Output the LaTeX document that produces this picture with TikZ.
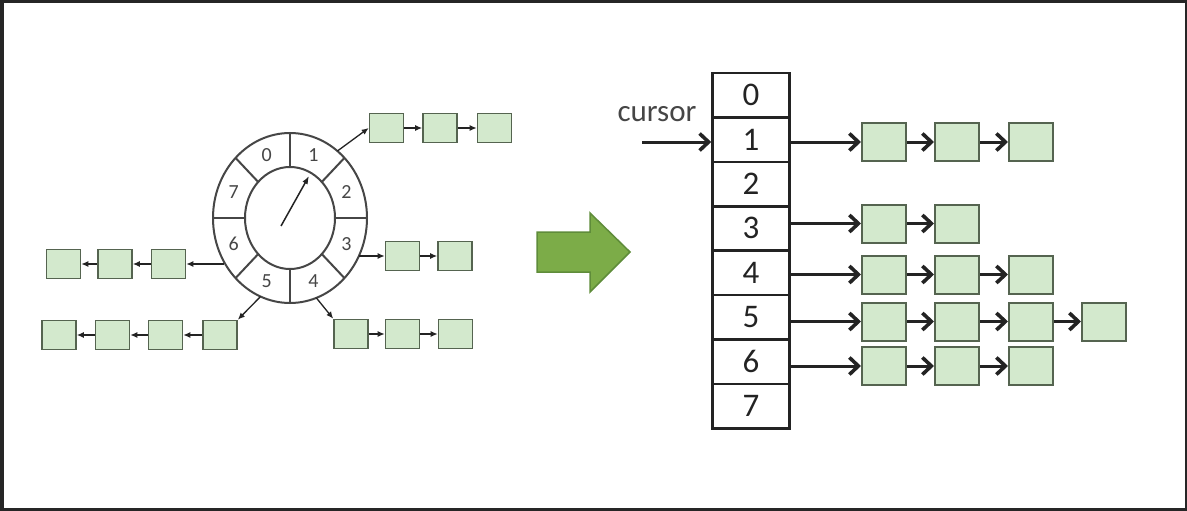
\documentclass[tikz,border=0pt]{standalone}
\usepackage{fontspec}
\setmainfont{Carlito}
\usetikzlibrary{arrows.meta}
\definecolor{boxfill}{RGB}{211,233,205}
\definecolor{boxdraw}{RGB}{85,100,80}
\definecolor{ink}{RGB}{35,35,35}
\definecolor{ringc}{RGB}{70,70,70}
\definecolor{bigg}{RGB}{124,172,72}
\definecolor{biggd}{RGB}{95,140,58}
\definecolor{framec}{RGB}{38,38,38}
\begin{document}
\begin{tikzpicture}[x=1pt,y=-1pt,
 sbox/.style={draw=boxdraw,fill=boxfill,line width=1.6pt,minimum width=34pt,minimum height=29pt,inner sep=0pt},
 bbox/.style={draw=boxdraw,fill=boxfill,line width=2pt,minimum width=44pt,minimum height=38pt,inner sep=0pt},
 cell/.style={draw=ink,line width=2.6pt,minimum width=77pt,minimum height=44.4pt,inner sep=0pt,font=\fontsize{33}{33}\selectfont,text=ink},
 sarr/.style={draw=ink,line width=1.3pt,-{Latex[length=7pt,width=6pt]}},
 barr/.style={draw=ink,line width=3pt,-{Straight Barb[length=9pt,width=17pt,line width=3.6pt]}},
 ringlbl/.style={font=\fontsize{20}{20}\selectfont,text=ringc,inner sep=0pt},
]
% frame
\fill[framec] (0,0) rectangle (1187,511);
\fill[white] (4,3) rectangle (1185,508);
\useasboundingbox (0,0) rectangle (1187,511);

% ring (timing wheel)
\draw[ringc,line width=2pt] (290,218) ellipse [x radius=77pt, y radius=85pt];
\draw[ringc,line width=2pt] (290,218) ellipse [x radius=45pt, y radius=51pt];
\foreach \a in {0,45,...,315}
  \draw[ringc,line width=2pt] ({290+45*cos(\a)},{218-51*sin(\a)}) -- ({290+77*cos(\a)},{218-85*sin(\a)});
\foreach \n/\a in {0/112.5,1/67.5,2/22.5,3/-22.5,4/-67.5,5/-112.5,6/-157.5,7/157.5}
  \node[ringlbl] (r\n) at ({290+61*cos(\a)},{218-68*sin(\a)}) {\n};
\coordinate (hub) at (281,226);
\coordinate (handtip) at (309,176);
\draw[ink,line width=1.5pt,-{Latex[length=8pt,width=6pt]}] (hub) -- (handtip);

% exit points on the ring
\coordinate (e1) at ({290+77*cos(52)},{218-85*sin(52)});
\coordinate (e3) at (359,256);
\coordinate (e4) at ({290+77*cos(-70)},{218-85*sin(-70)});
\coordinate (e5) at ({290+77*cos(-112.5)},{218-85*sin(-112.5)});
\coordinate (e6) at (224,264);

% left-side chains
\node[sbox] (a1) at (386.5,128) {};
\node[sbox] (a2) at (440,128) {};
\node[sbox] (a3) at (494.5,128) {};
\draw[sarr] (e1) -- (a1.west);
\draw[sarr] (a1) -- (a2);
\draw[sarr] (a2) -- (a3);

\node[sbox] (b1) at (402.5,256) {};
\node[sbox] (b2) at (455,256) {};
\draw[sarr] (e3) -- (b1.west);
\draw[sarr] (b1) -- (b2);

\node[sbox] (d1) at (351,334) {};
\node[sbox] (d2) at (402.5,334) {};
\node[sbox] (d3) at (455.5,334) {};
\draw[sarr] (e4) -- (d1.north west);
\draw[sarr] (d1) -- (d2);
\draw[sarr] (d2) -- (d3);

\node[sbox] (f1) at (63.5,264) {};
\node[sbox] (f2) at (115,264) {};
\node[sbox] (f3) at (168.5,264) {};
\draw[sarr] (e6) -- (f3.east);
\draw[sarr] (f3) -- (f2);
\draw[sarr] (f2) -- (f1);

\node[sbox] (g1) at (59,335) {};
\node[sbox] (g2) at (112.5,335) {};
\node[sbox] (g3) at (165.5,335) {};
\node[sbox] (g4) at (220,335) {};
\draw[sarr] (e5) -- (g4.north east);
\draw[sarr] (g4) -- (g3);
\draw[sarr] (g3) -- (g2);
\draw[sarr] (g2) -- (g1);

% big green arrow
\draw[biggd,fill=bigg,line width=1.5pt,line join=miter]
  (537,232) -- (590,232) -- (590,213) -- (630,252) -- (590,292) -- (590,272) -- (537,272) -- cycle;

% table
\foreach \i in {0,...,7}
  \node[cell] (c\i) at (751,{73+44.4*(\i+0.5)}) {\i};
\node[font=\fontsize{31}{31}\selectfont,text=ringc,inner sep=0pt] (cursorlbl) at (657,114) {cursor};
\coordinate (cur) at (642,142);
\draw[barr] (cur) -- (cur -| c1.west);

% right chains
\foreach \k/\x in {1/884,2/957,3/1031} \node[bbox] (p\k) at (\x,142) {};
\draw[barr] (c1.east |- p1.west) -- (p1.west);
\draw[barr] (p1) -- (p2);
\draw[barr] (p2) -- (p3);

\foreach \k/\x in {1/884,2/957} \node[bbox] (q\k) at (\x,223.5) {};
\draw[barr] (c3.east |- q1.west) -- (q1.west);
\draw[barr] (q1) -- (q2);

\foreach \k/\x in {1/884,2/957,3/1031} \node[bbox] (s\k) at (\x,274.5) {};
\draw[barr] (c4.east |- s1.west) -- (s1.west);
\draw[barr] (s1) -- (s2);
\draw[barr] (s2) -- (s3);

\foreach \k/\x in {1/884,2/957,3/1031,4/1104} \node[bbox] (t\k) at (\x,321.5) {};
\draw[barr] (c5.east |- t1.west) -- (t1.west);
\draw[barr] (t1) -- (t2);
\draw[barr] (t2) -- (t3);
\draw[barr] (t3) -- (t4);

\foreach \k/\x in {1/884,2/957,3/1031} \node[bbox] (u\k) at (\x,366) {};
\draw[barr] (c6.east |- u1.west) -- (u1.west);
\draw[barr] (u1) -- (u2);
\draw[barr] (u2) -- (u3);
\end{tikzpicture}
\end{document}
